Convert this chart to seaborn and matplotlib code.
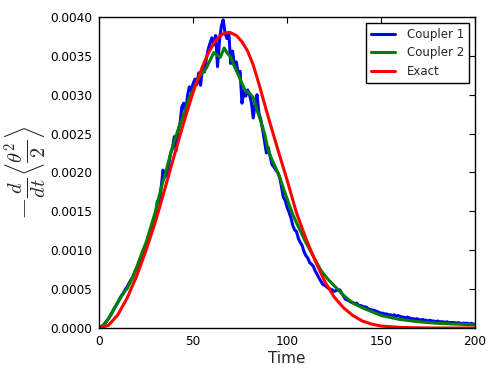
import numpy as np
import pandas as pd
import seaborn as sns
import matplotlib.pyplot as plt
from matplotlib.ticker import FormatStrFormatter

# values are in units of 1e-4
coupler1_time = list(range(0, 201))
coupler1_vals = [
    0.0, 0.1, 0.3, 0.6, 0.9, 1.2, 1.6, 2.0, 2.5, 2.9,
    3.3, 3.8, 4.2, 4.5, 5.0, 5.3, 5.8, 6.2, 6.6, 7.2,
    7.7, 8.3, 8.9, 9.4, 10.1, 10.8, 11.2, 12.3, 12.9, 13.8,
    14.6, 16.3, 15.9, 18.0, 20.3, 19.4, 19.8, 21.0, 22.4, 23.1,
    24.6, 22.8, 25.3, 26.2, 28.4, 28.9, 27.6, 29.8, 31.0, 30.5,
    31.4, 32.0, 31.3, 32.8, 31.2, 33.5, 32.9, 34.5, 35.8, 36.6,
    37.3, 36.4, 37.6, 33.6, 36.8, 38.8, 39.6, 37.9, 37.2, 38.0,
    34.0, 35.6, 33.8, 34.2, 32.6, 33.0, 28.9, 30.5, 29.8, 30.6,
    30.0, 29.0, 27.0, 28.8, 30.0, 27.6, 26.8, 25.5, 24.0, 22.5,
    23.2, 22.0, 21.0, 20.7, 20.3, 20.0, 19.4, 18.2, 16.8, 16.4,
    15.5, 14.9, 14.2, 13.2, 12.6, 12.4, 11.5, 11.0, 10.6, 9.8,
    9.3, 9.0, 8.4, 8.2, 7.9, 7.3, 6.9, 6.4, 6.0, 5.6,
    5.5, 5.3, 5.1, 5.0, 4.9, 4.7, 4.8, 4.9, 4.9, 4.5,
    4.1, 3.7, 3.6, 3.5, 3.3, 3.3, 3.1, 3.2, 2.9, 2.9,
    2.8, 2.7, 2.7, 2.5, 2.4, 2.3, 2.3, 2.2, 2.1, 2.0,
    1.9, 1.9, 1.8, 1.8, 1.7, 1.7, 1.6, 1.7, 1.5, 1.6,
    1.5, 1.4, 1.4, 1.3, 1.4, 1.3, 1.2, 1.2, 1.1, 1.2,
    1.1, 1.0, 1.1, 1.0, 1.0, 0.9, 1.0, 0.9, 0.9, 0.8,
    0.9, 0.8, 0.8, 0.8, 0.7, 0.8, 0.7, 0.7, 0.7, 0.7,
    0.6, 0.7, 0.6, 0.6, 0.6, 0.6, 0.6, 0.5, 0.6, 0.5,
    0.5,
]

coupler2_time = [0, 3, 5, 8, 10, 13, 15, 18, 20, 23, 25, 28, 30, 33, 35, 38, 40, 43, 45, 48,
                 50, 53, 55, 57, 59, 61, 63, 64.5, 66.5, 68, 70, 72, 74, 76, 78, 80, 82, 84, 86, 88,
                 90, 92, 94, 96, 98, 100, 103, 106, 110, 114, 118, 122, 126, 130, 135, 140, 145, 150,
                 160, 170, 180, 190, 200]
coupler2_vals = [0.0, 0.5, 1.2, 2.5, 3.3, 4.5, 5.1, 6.6, 7.8, 9.8, 11.0, 13.4, 15.0, 18.0, 19.6, 22.4,
                 24.0, 26.2, 27.4, 29.6, 30.6, 32.2, 32.8, 33.4, 34.4, 35.4, 35.0, 34.8, 36.0, 35.4,
                 34.8, 33.6, 32.6, 31.4, 30.4, 30.2, 29.6, 28.0, 26.6, 25.0, 22.8, 21.6, 20.6, 19.4,
                 18.0, 16.6, 14.6, 13.0, 11.0, 9.2, 7.4, 6.2, 5.2, 4.2, 3.2, 2.6, 2.1, 1.6,
                 1.1, 0.8, 0.6, 0.5, 0.4]

exact_time = [0, 5, 10, 15, 20, 25, 30, 35, 40, 45, 50, 55, 58, 61, 64, 67, 70, 73, 76, 79,
              82, 85, 90, 95, 100, 105, 110, 115, 120, 125, 130, 135, 140, 145, 150, 160,
              170, 185, 200]
exact_vals = [0.0, 0.35, 1.7, 3.9, 6.7, 10.0, 13.7, 17.9, 22.2, 26.4, 30.3, 33.6, 35.3, 36.6,
              37.5, 37.95, 37.95, 37.6, 36.8, 35.6, 33.8, 31.4, 27.1, 23.0, 19.0, 14.8, 11.5,
              8.6, 6.0, 4.0, 2.6, 1.6, 0.9, 0.5, 0.25, 0.08, 0.02, 0.0, 0.0]

x_ticks = [0, 50, 100, 150, 200]
y_ticks = [0.0, 0.0005, 0.0010, 0.0015, 0.0020, 0.0025, 0.0030, 0.0035, 0.0040]


def make_frame(time, vals, name):
    return pd.DataFrame({"Time": time, "value": np.array(vals) * 1e-4, "series": name})


df = pd.concat([
    make_frame(coupler1_time, coupler1_vals, "Coupler 1"),
    make_frame(coupler2_time, coupler2_vals, "Coupler 2"),
    make_frame(exact_time, exact_vals, "Exact"),
], ignore_index=True)

sns.set_style("white")
plt.rcParams['font.family'] = ['DejaVu Sans']
plt.rcParams['mathtext.fontset'] = 'cm'

fig = plt.figure(figsize=(4.98, 3.74), dpi=100)
ax = fig.add_axes([0.199, 0.123, 0.755, 0.832])

colors = {"Coupler 1": "#0000ff", "Coupler 2": "#008000", "Exact": "#ff0000"}
sns.lineplot(data=df, x="Time", y="value", hue="series", palette=colors,
             estimator=None, sort=False, linewidth=2.2, ax=ax)

ax.set_xlim(0, 200)
ax.set_ylim(0, 0.004)
ax.set_xticks(x_ticks)
ax.set_yticks(y_ticks)
ax.yaxis.set_major_formatter(FormatStrFormatter('%.4f'))
ax.tick_params(direction='in', length=4, width=0.8, top=True, right=True,
               labelsize=8.7, pad=5, colors='black')
for s in ax.spines.values():
    s.set_color('black')
    s.set_linewidth(1.0)

ax.set_xlabel("Time", fontsize=11, labelpad=2)
ax.set_ylabel(r"$-\frac{d}{dt}\left\langle\frac{\theta^2}{2}\right\rangle$", fontsize=21, labelpad=0)

leg = ax.legend(loc="upper right", fontsize=8.5, frameon=True, fancybox=False,
                framealpha=1, edgecolor='black', handlelength=2, handletextpad=1.0,
                labelspacing=0.45, borderpad=0.45, borderaxespad=0.5)
leg.get_frame().set_linewidth(1.0)
for line in leg.get_lines():
    line.set_linewidth(2.2)

fig.savefig("out.png", dpi=100, facecolor='white')
